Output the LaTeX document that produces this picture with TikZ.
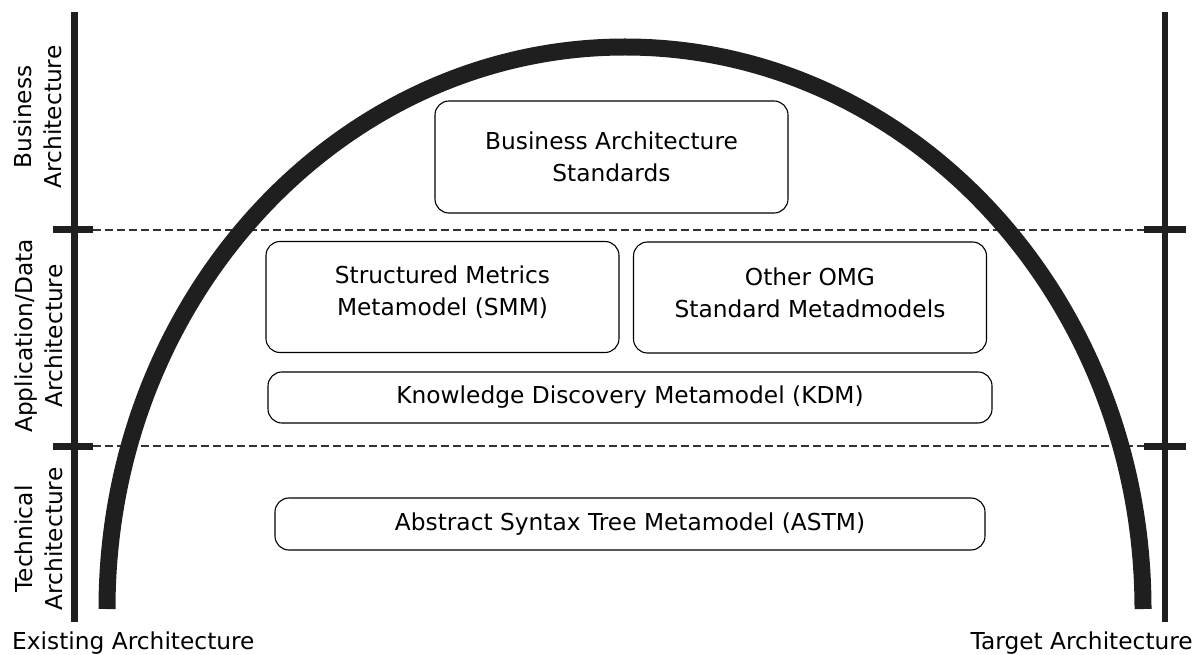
\documentclass[tikz,border=0pt]{standalone}
\usepackage{fontspec}
\setmainfont{DejaVu Sans}
\begin{document}
\begin{tikzpicture}[x=1pt,y=1pt,
  stdbox/.style={draw=black, line width=1.1pt, rounded corners=14pt, fill=white,
    inner sep=0pt, align=center, font=\fontsize{23.3}{32}\selectfont},
  boxtext/.style={inner sep=0pt, align=center, font=\fontsize{23.3}{32}\selectfont},
  sidelabel/.style={rotate=90, align=center, inner sep=0pt,
    font=\fontsize{23.3}{30.5}\selectfont},
  footlabel/.style={inner sep=0pt, font=\fontsize{23.3}{32}\selectfont},
  axis/.style={line width=6.5pt, draw=black!88},
  tick/.style={line width=7pt, draw=black!88},
  layerline/.style={line width=1.2pt, draw=black!80, dash pattern=on 7.5pt off 4.5pt}
]
\useasboundingbox (0,0) rectangle (1203,-655);

% vertical axes for the existing and target architectures
\coordinate (lt) at (74.5,-12);  \coordinate (lb) at (74.5,-622);
\coordinate (rt) at (1165,-12);  \coordinate (rb) at (1165,-622);
\draw[axis] (lt) -- (lb);
\draw[axis] (rt) -- (rb);

% layer boundaries: ticks on both axes joined by dashed lines
\coordinate (l1a) at (53,-230);  \coordinate (l1b) at (93,-230);
\coordinate (r1a) at (1144,-230); \coordinate (r1b) at (1186,-230);
\coordinate (l2a) at (53,-446);  \coordinate (l2b) at (93,-446);
\coordinate (r2a) at (1144,-446); \coordinate (r2b) at (1186,-446);
\draw[tick] (l1a) -- (l1b);
\draw[tick] (r1a) -- (r1b);
\draw[tick] (l2a) -- (l2b);
\draw[tick] (r2a) -- (r2b);
\draw[layerline] (l1b) -- (r1a);
\draw[layerline] (l2b) -- (r2a);

% the horseshoe arc
\coordinate (arcstart) at (107,-609);
\draw[line width=17pt, draw=black!88]
  (arcstart) arc[start angle=180, end angle=0, x radius=518pt, y radius=562pt];

% standards boxes
\node[stdbox, minimum width=353pt, minimum height=112pt] (bas) at (611.5,-157)
  {Business Architecture\\Standards};
\node[stdbox, minimum width=353pt, minimum height=111pt] (smm) at (442.5,-297) {};
\node[boxtext] (smmtext) at ([yshift=4.5pt]smm.center)
  {Structured Metrics\\Metamodel (SMM)};
\node[stdbox, minimum width=353pt, minimum height=111pt] (omg) at (810,-297.5) {};
\node[boxtext] (omgtext) at ([yshift=4.5pt]omg.center)
  {Other OMG\\Standard Metadmodels};
\node[stdbox, minimum width=724pt, minimum height=51pt] (kdm) at (630,-397.5)
  {Knowledge Discovery Metamodel (KDM)};
\node[stdbox, minimum width=710pt, minimum height=52pt] (astm) at (630,-524)
  {Abstract Syntax Tree Metamodel (ASTM)};

% layer labels along the left axis
\node[sidelabel] (lbus) at (38,-117) {Business\\Architecture};
\node[sidelabel] (lapp) at (39,-336) {Application/Data\\Architecture};
\node[sidelabel] (ltec) at (39,-539) {Technical\\Architecture};

% end labels
\node[footlabel, anchor=base west] (exist) at (12,-649) {Existing Architecture};
\node[footlabel, anchor=base east] (target) at (1193,-649) {Target Architecture};
\end{tikzpicture}
\end{document}
